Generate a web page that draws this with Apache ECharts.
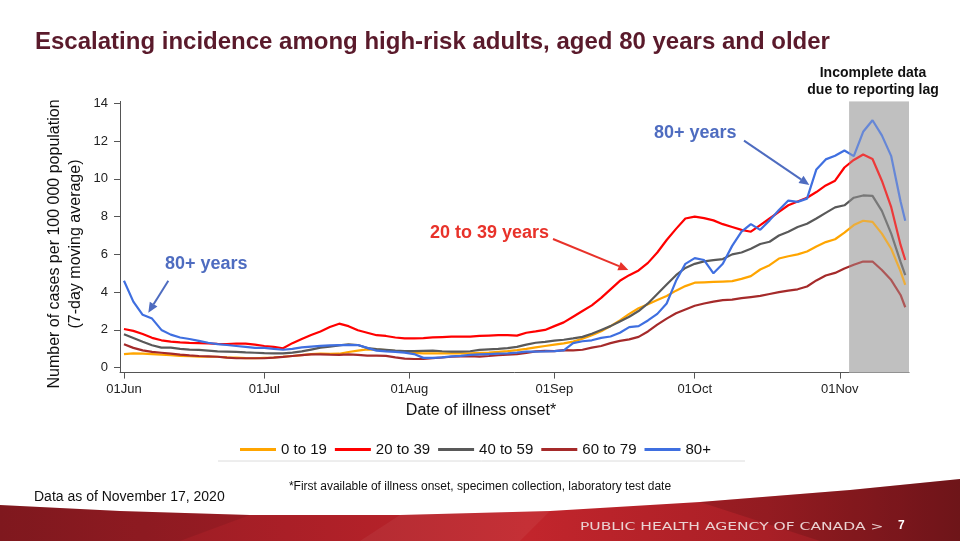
<!DOCTYPE html>
<html><head><meta charset="utf-8">
<script src="https://cdn.jsdelivr.net/npm/echarts@6/dist/echarts.min.js"></script>
<style>html,body{margin:0;padding:0;background:#fff}#c{width:960px;height:541px}</style>
</head><body><div id="c"></div>
<script>
// Day index since 01 Jun 2020
const days = [0,2,4,6,8,10,12,14,16,18,20,22,24,26,28,30,32,34,36,38,40,42,44,46,48,50,52,54,56,58,
60,62,64,66,68,70,72,74,76,78,80,82,84,86,88,90,92,94,96,98,100,102,104,106,108,110,112,114,116,118,
120,122,124,126,128,130,132,134,136,138,140,142,144,146,148,150,152,154,156,158,160,162,164,166,167];

const seriesNames = ['0 to 19','20 to 39','40 to 59','60 to 79','80+'];

const age0to19 = [0.72,0.76,0.74,0.72,0.69,0.66,0.63,0.61,0.59,0.58,
 0.58,0.55,0.53,0.51,0.5,0.52,0.54,0.58,0.62,0.67,
 0.72,0.74,0.73,0.74,0.83,0.9,0.97,0.96,0.93,0.88,
 0.84,0.78,0.76,0.76,0.76,0.76,0.76,0.76,0.78,0.8,
 0.84,0.88,0.93,1.0,1.08,1.15,1.22,1.29,1.38,1.53,
 1.72,1.93,2.2,2.5,2.85,3.15,3.36,3.58,3.8,4.08,
 4.32,4.5,4.52,4.54,4.56,4.58,4.7,4.85,5.2,5.43,
 5.78,5.9,6.0,6.15,6.42,6.65,6.8,7.15,7.55,7.78,
 7.72,7.1,6.3,5.1,4.38];

const age20to39 = [2.05,1.95,1.78,1.58,1.45,1.38,1.34,1.31,1.3,1.28,
 1.26,1.25,1.28,1.27,1.22,1.15,1.1,1.03,1.3,1.52,
 1.73,1.92,2.15,2.33,2.2,1.98,1.85,1.72,1.68,1.6,
 1.55,1.55,1.57,1.6,1.62,1.64,1.64,1.65,1.68,1.7,
 1.72,1.72,1.7,1.85,1.92,2.0,2.2,2.4,2.7,3.0,
 3.3,3.7,4.15,4.6,4.9,5.15,5.55,6.1,6.76,7.35,
 7.9,8.0,7.92,7.8,7.6,7.45,7.3,7.2,7.55,7.9,
 8.25,8.6,8.8,9.0,9.3,9.65,9.9,10.6,11.0,11.29,
 11.05,9.9,8.5,6.5,5.7];

const age40to59 = [1.77,1.57,1.37,1.19,1.06,1.06,1.0,0.96,0.94,0.9,
 0.86,0.85,0.84,0.81,0.79,0.77,0.76,0.76,0.8,0.86,
 0.96,1.06,1.11,1.18,1.24,1.2,1.04,0.98,0.94,0.9,
 0.88,0.88,0.89,0.9,0.87,0.85,0.85,0.87,0.94,0.97,
 1.0,1.04,1.1,1.22,1.32,1.37,1.43,1.48,1.55,1.63,
 1.8,2.0,2.2,2.45,2.7,3.0,3.4,3.9,4.4,4.9,
 5.28,5.5,5.63,5.7,5.75,6.0,6.1,6.3,6.55,6.67,
 7.0,7.2,7.45,7.62,7.9,8.2,8.49,8.6,9.0,9.12,
 9.1,8.3,7.1,5.6,4.9];

const age60to79 = [1.24,1.05,0.92,0.84,0.79,0.74,0.69,0.65,0.62,0.6,
 0.58,0.53,0.5,0.5,0.5,0.5,0.53,0.57,0.62,0.67,
 0.7,0.71,0.69,0.68,0.7,0.68,0.64,0.64,0.63,0.55,
 0.48,0.46,0.47,0.5,0.54,0.58,0.6,0.61,0.59,0.62,
 0.66,0.69,0.72,0.78,0.86,0.89,0.88,0.93,0.92,0.95,
 1.06,1.15,1.3,1.42,1.5,1.63,1.92,2.28,2.6,2.88,
 3.08,3.28,3.4,3.5,3.58,3.6,3.68,3.74,3.8,3.9,
 4.0,4.08,4.15,4.3,4.62,4.88,5.02,5.25,5.45,5.62,
 5.62,5.17,4.64,3.85,3.2];

const age80plus = [4.6,3.5,2.8,2.6,2.0,1.75,1.6,1.52,1.42,1.32,
 1.25,1.2,1.15,1.1,1.05,1.05,1.0,0.95,1.0,1.08,
 1.12,1.15,1.18,1.2,1.2,1.2,1.05,0.9,0.86,0.84,
 0.8,0.72,0.52,0.52,0.55,0.6,0.63,0.68,0.7,0.72,
 0.74,0.76,0.8,0.85,0.85,0.86,0.88,0.92,1.3,1.4,
 1.45,1.58,1.65,1.85,2.15,2.2,2.5,2.85,3.4,4.6,
 5.5,5.8,5.7,5.0,5.5,6.45,7.2,7.6,7.3,7.8,
 8.35,8.85,8.78,8.95,10.5,11.03,11.22,11.5,11.2,12.49,
 13.1,12.3,11.2,8.8,7.78];

const monthTickDays = [0,30,61,92,122,153];
const monthTickLabels = ['01Jun','01Jul','01Aug','01Sep','01Oct','01Nov'];
const yTicks = [0,2,4,6,8,10,12,14];
const incompleteStart = 155;   // start of reporting-lag window (day index)
const incompleteEnd = 167.8;

const colors = ['#FFA500','#FF0000','#595959','#A52A2A','#3F6FE0'];
const values = [age0to19, age20to39, age40to59, age60to79, age80plus];

const FONT = '"Liberation Sans", Arial, sans-serif';

function arrow(x1,y1,x2,y2,color){
  const ang = Math.atan2(y2-y1, x2-x1), L = 10, W = 4.5;
  const bx = x2 - L*Math.cos(ang), by = y2 - L*Math.sin(ang);
  const px = -Math.sin(ang), py = Math.cos(ang);
  return [
    {type:'line', shape:{x1:x1,y1:y1,x2:bx,y2:by}, style:{stroke:color, lineWidth:2}, z:50},
    {type:'polygon', shape:{points:[[x2,y2],[bx+px*W,by+py*W],[bx-px*W,by-py*W]]}, style:{fill:color}, z:50}
  ];
}

function bandEdge(){
  const pts = [[0,505],[120,511],[250,515],[400,515],[550,511],[700,502],[850,490],[960,479]];
  return pts.concat([[960,541],[0,541]]);
}

const chart = echarts.init(document.getElementById('c'), null, {renderer:'canvas'});

const series = values.map((v,i)=>({
  name: seriesNames[i], type:'line',
  data: days.map((d,j)=>[d, v[j]]),
  showSymbol:false, symbol:'none', smooth:false,
  lineStyle:{width:2.2, color:colors[i]},
  itemStyle:{color:colors[i]},
  z: 3+i, animation:false
}));
series.unshift({
  name:'lag', type:'line', data:[], z:1, silent:true,
  markArea:{silent:true, z:1, itemStyle:{color:'#c0c0c0'}, data:[[{xAxis:incompleteStart},{xAxis:incompleteEnd}]]}
});
series.push({
  name:'lagVeil', type:'line', data:[], z:20, silent:true,
  markArea:{silent:true, z:20, itemStyle:{color:'rgba(192,192,192,0.3)'}, data:[[{xAxis:incompleteStart},{xAxis:incompleteEnd}]]}
});

const option = {
  backgroundColor:'#ffffff',
  animation:false,
  grid:{left:120, right:51, top:101.4, bottom:168.4},
  xAxis:{
    type:'value', min:-0.85, max:incompleteEnd,
    axisLine:{show:true, onZero:false, lineStyle:{color:'#555', width:1}},
    axisTick:{show:true, customValues:monthTickDays, length:6, lineStyle:{color:'#555'}},
    axisLabel:{customValues:monthTickDays, fontSize:13, color:'#222', fontFamily:FONT, margin:10,
      formatter:function(v){ const k = monthTickDays.indexOf(Math.round(v)); return k>=0 ? monthTickLabels[k] : ''; }},
    splitLine:{show:false}
  },
  yAxis:{
    type:'value', min:-0.26, max:14.1,
    axisLine:{show:true, onZero:false, lineStyle:{color:'#555', width:1}},
    axisTick:{show:true, customValues:yTicks, length:6, lineStyle:{color:'#555'}},
    axisLabel:{customValues:yTicks, fontSize:13, color:'#222', fontFamily:FONT, margin:12},
    splitLine:{show:false}
  },
  legend:{
    left:235, top:437, icon:'rect', itemWidth:36, itemHeight:3, itemGap:8,
    textStyle:{fontSize:15, color:'#111', fontFamily:FONT},
    data: seriesNames.map((n,i)=>({name:n, itemStyle:{color:colors[i]}}))
  },
  series: series,
  graphic:[
    {type:'text', x:35, y:42, style:{text:'Escalating incidence among high-risk adults, aged 80 years and older',
      font:'bold 24px '+FONT, fill:'#5a1a2b', textVerticalAlign:'middle', verticalAlign:'middle'}},
    {type:'text', x:65.5, y:244, rotation:Math.PI/2, style:{text:'Number of cases per 100 000 population\n(7-day moving average)',
      font:'16px '+FONT, fill:'#111', textAlign:'center', align:'center', textVerticalAlign:'middle', verticalAlign:'middle', lineHeight:21}},
    {type:'text', x:481, y:411, style:{text:'Date of illness onset*', font:'16px '+FONT, fill:'#111',
      textAlign:'center', align:'center', textVerticalAlign:'middle', verticalAlign:'middle'}},
    {type:'text', x:873, y:81.5, style:{text:'Incomplete data\ndue to reporting lag', font:'bold 14px '+FONT, fill:'#111',
      textAlign:'center', align:'center', textVerticalAlign:'middle', verticalAlign:'middle', lineHeight:17}},
    {type:'text', x:165, y:264, style:{text:'80+ years', font:'bold 18px '+FONT, fill:'#4e6cc0', textVerticalAlign:'middle', verticalAlign:'middle'}},
    {type:'text', x:430, y:233, style:{text:'20 to 39 years', font:'bold 18px '+FONT, fill:'#e8322a', textVerticalAlign:'middle', verticalAlign:'middle'}},
    {type:'text', x:654, y:133, style:{text:'80+ years', font:'bold 18px '+FONT, fill:'#4e6cc0', textVerticalAlign:'middle', verticalAlign:'middle'}},
    ...arrow(168.3,280.7,148.3,312.7,'#4e6cc0'),
    ...arrow(553,239,628.3,270,'#e8322a'),
    ...arrow(744,140.7,809.3,185,'#4e6cc0'),
    {type:'line', shape:{x1:218,y1:461,x2:745,y2:461}, style:{stroke:'#dcdcdc', lineWidth:1}},
    {type:'text', x:480, y:487, style:{text:'*First available of illness onset, specimen collection, laboratory test date',
      font:'12px '+FONT, fill:'#111', textAlign:'center', align:'center', textVerticalAlign:'middle', verticalAlign:'middle'}},
    {type:'text', x:34, y:497, style:{text:'Data as of November 17, 2020', font:'14px '+FONT, fill:'#111',
      textVerticalAlign:'middle', verticalAlign:'middle'}},
    {type:'polygon', shape:{points:bandEdge()}, z:-1, style:{fill:new echarts.graphic.LinearGradient(0,0,1,0,[
      {offset:0,color:'#8a1b21'},{offset:0.3,color:'#aa1f27'},{offset:0.55,color:'#c2252c'},{offset:0.8,color:'#a81f26'},{offset:1,color:'#7e181d'}])}},
    {type:'polygon', shape:{points:[[0,505],[120,511],[250,515],[180,541],[0,541]]}, z:-1, style:{fill:'rgba(0,0,0,0.08)'}},
    {type:'polygon', shape:{points:[[700,502],[850,490],[960,479],[960,541],[820,541]]}, z:-1, style:{fill:'rgba(0,0,0,0.12)'}},
    {type:'polygon', shape:{points:[[400,515],[550,511],[520,541],[360,541]]}, z:-1, style:{fill:'rgba(255,255,255,0.05)'}},
    {type:'text', x:580, y:527, scaleX:1.55, style:{text:'PUBLIC HEALTH AGENCY OF CANADA >', font:'10px "DejaVu Sans", sans-serif',
      fill:'#ead2d2', textVerticalAlign:'middle', verticalAlign:'middle'}},
    {type:'text', x:898, y:526, style:{text:'7', font:'bold 12px '+FONT, fill:'#ffffff', textVerticalAlign:'middle', verticalAlign:'middle'}}
  ]
};
chart.setOption(option);
</script>
</body></html>
